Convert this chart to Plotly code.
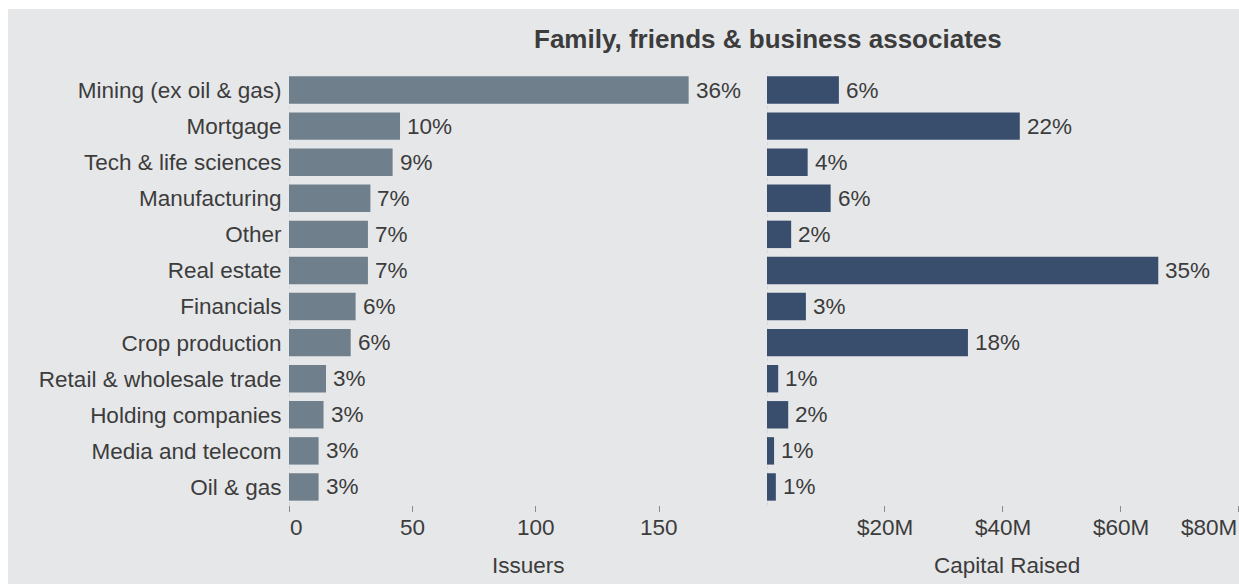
import plotly.graph_objects as go

# Industry breakdown of offerings sold to family, friends & business associates
categories = [
    "Mining (ex oil & gas)",
    "Mortgage",
    "Tech & life sciences",
    "Manufacturing",
    "Other",
    "Real estate",
    "Financials",
    "Crop production",
    "Retail & wholesale trade",
    "Holding companies",
    "Media and telecom",
    "Oil & gas",
]
issuers = [162, 45, 42, 33, 32, 32, 27, 25, 15, 14, 12, 12]
capital_musd = [12.2, 42.9, 6.9, 10.8, 4.1, 66.4, 6.6, 34.1, 1.9, 3.6, 1.2, 1.5]

issuer_ticks = [0, 50, 100, 150]
issuer_tick_labels = ["0", "50", "100", "150"]
capital_ticks = [20, 40, 60, 80]
capital_tick_labels = ["$20M", "$40M", "$60M", "$80M"]


def shares(values):
    total = sum(values)
    return [f"{round(100 * v / total)}%" for v in values]


issuer_share = shares(issuers)
capital_share = shares(capital_musd)

# ---- styling -------------------------------------------------------------
W, H = 1239, 584
ML, MR, MT, MB = 289, 0, 72, 79
PW, PH = W - ML - MR, H - MT - MB
SPLIT = (767 - ML) / PW

BG = "#e6e7e9"
TXT = "#3c3c3c"
ISSUER_CLR = "#6f808c"
CAPITAL_CLR = "#384e6c"
FONT = "Liberation Sans, Arial, sans-serif"
FS = 22.5


def px_x(px):
    return (px - ML) / PW


def px_y(py):
    return (MT + PH - py) / PH


fig = go.Figure()
fig.add_trace(go.Bar(
    y=categories, x=issuers, orientation="h",
    marker=dict(color=ISSUER_CLR, line=dict(width=0)),
    xaxis="x", yaxis="y", hoverinfo="x+y",
))
fig.add_trace(go.Bar(
    y=categories, x=capital_musd, orientation="h",
    marker=dict(color=CAPITAL_CLR, line=dict(width=0)),
    xaxis="x2", yaxis="y2", hoverinfo="x+y",
))

annotations = []
# value labels at the end of each bar
for cat, v, s in zip(categories, issuers, issuer_share):
    annotations.append(dict(x=v, y=cat, xref="x", yref="y", text=s,
                            xanchor="left", yanchor="middle", xshift=5,
                            showarrow=False, font=dict(size=FS, color=TXT)))
for cat, v, s in zip(categories, capital_musd, capital_share):
    annotations.append(dict(x=v, y=cat, xref="x2", yref="y2", text=s,
                            xanchor="left", yanchor="middle", xshift=5,
                            showarrow=False, font=dict(size=FS, color=TXT)))

# tick labels under both value axes (edge labels nudged inward)
label_y = px_y(527)
for i, (t, lab) in enumerate(zip(issuer_ticks, issuer_tick_labels)):
    annotations.append(dict(x=t, y=label_y, xref="x", yref="paper", text=lab,
                            xanchor="center", yanchor="middle",
                            xshift=7 if i == 0 else 0,
                            showarrow=False, font=dict(size=FS, color=TXT)))
for i, (t, lab) in enumerate(zip(capital_ticks, capital_tick_labels)):
    annotations.append(dict(x=t, y=label_y, xref="x2", yref="paper", text=lab,
                            xanchor="center", yanchor="middle",
                            xshift=-29 if i == len(capital_ticks) - 1 else 0,
                            showarrow=False, font=dict(size=FS, color=TXT)))

# axis titles and chart title
annotations.append(dict(x=px_x(528), y=px_y(565), xref="paper", yref="paper",
                        text="Issuers", showarrow=False,
                        xanchor="center", yanchor="middle",
                        font=dict(size=FS, color=TXT)))
annotations.append(dict(x=px_x(1006.5), y=px_y(565), xref="paper", yref="paper",
                        text="Capital Raised", showarrow=False,
                        xanchor="center", yanchor="middle",
                        font=dict(size=FS, color=TXT)))
annotations.append(dict(x=px_x(768), y=px_y(39), xref="paper", yref="paper",
                        text="<b>Family, friends & business associates</b>",
                        showarrow=False, xanchor="center", yanchor="middle",
                        font=dict(size=26, color=TXT)))

shapes = [
    # grey panel behind everything, leaving a thin white frame top-left
    dict(type="rect", xref="paper", yref="paper", layer="below",
         x0=px_x(8), x1=px_x(W + 5), y0=px_y(H + 5), y1=px_y(9),
         fillcolor=BG, line=dict(width=0)),
    # dotted baselines at zero
    dict(type="line", xref="x", yref="paper", x0=0, x1=0, y0=0, y1=1,
         layer="below", line=dict(color="#c4c6c9", width=1, dash="dot")),
    dict(type="line", xref="x2", yref="paper", x0=0, x1=0, y0=0, y1=1,
         layer="below", line=dict(color="#c4c6c9", width=1, dash="dot")),
]

axis_common = dict(showgrid=False, zeroline=False, showline=False,
                   ticks="outside", ticklen=6, tickwidth=1,
                   tickcolor="#8a8a8a", showticklabels=False)

fig.update_layout(
    width=W, height=H,
    margin=dict(l=ML, r=MR, t=MT, b=MB, pad=0),
    paper_bgcolor="white",
    plot_bgcolor="rgba(0,0,0,0)",
    font=dict(family=FONT, size=FS, color=TXT),
    showlegend=False,
    bargap=0.24,
    xaxis=dict(domain=[0, SPLIT], range=[0, (767 - ML) / 2.467],
               tickvals=issuer_ticks, anchor="y", **axis_common),
    xaxis2=dict(domain=[SPLIT, 1], range=[0, 80.1],
                tickvals=capital_ticks, anchor="y2", **axis_common),
    yaxis=dict(anchor="x", range=[len(categories) - 0.5, -0.5],
               categoryorder="array", categoryarray=categories,
               showgrid=False, zeroline=False, showline=False,
               ticks="outside", ticklen=2, tickcolor="rgba(0,0,0,0)",
               tickfont=dict(size=FS, color=TXT)),
    yaxis2=dict(anchor="x2", matches="y", showticklabels=False,
                showgrid=False, zeroline=False, showline=False, ticks=""),
    annotations=annotations,
    shapes=shapes,
)

fig.write_html("out.html")
